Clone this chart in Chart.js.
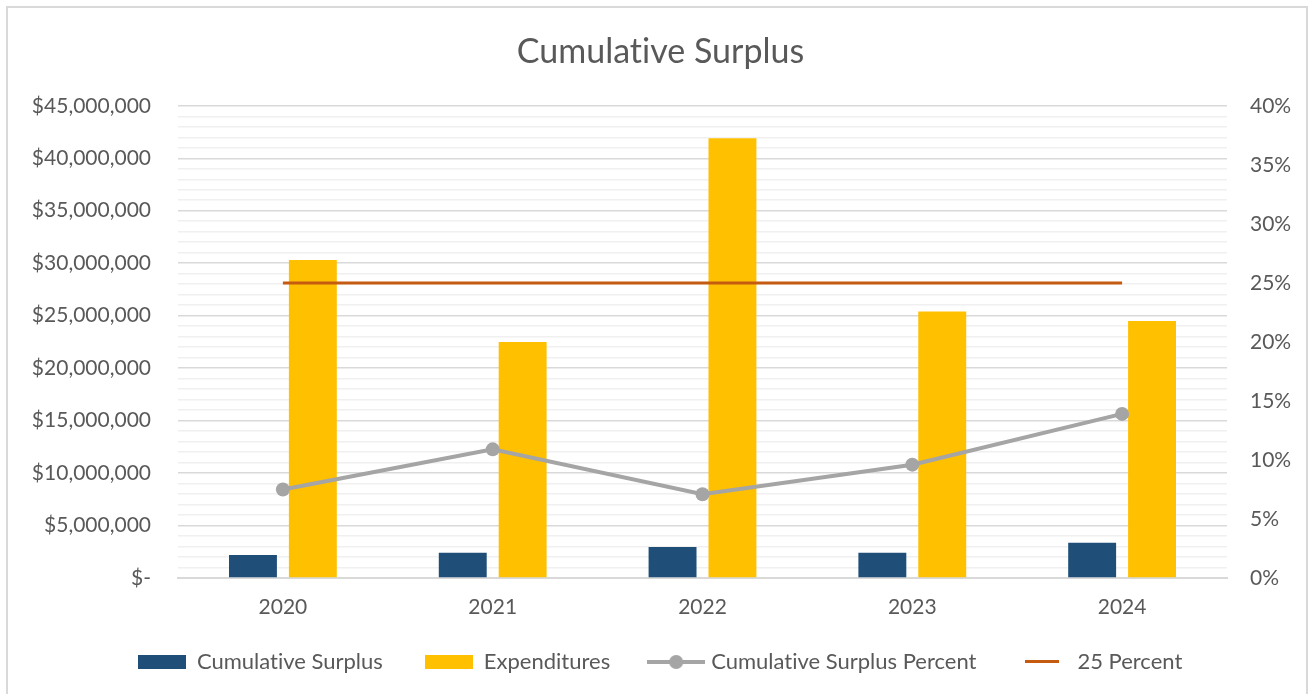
<!DOCTYPE html>
<html>
<head>
<meta charset="utf-8">
<script src="https://cdn.jsdelivr.net/npm/chart.js@4.4.1/dist/chart.umd.min.js"></script>
<style>
  html, body { margin: 0; padding: 0; background: #fff; }
  #wrap { width: 1309px; height: 694px; }
</style>
</head>
<body>
<div id="wrap"><canvas id="surplusChart" width="1309" height="694"></canvas></div>
<script>
// data
const years = ['2020', '2021', '2022', '2023', '2024'];
const cumulativeSurplus = [2200000, 2400000, 2950000, 2400000, 3350000];
const expenditures = [30300000, 22500000, 41900000, 25400000, 24500000];
const surplusPercent = [7.5, 10.9, 7.1, 9.6, 13.9];
const targetPercent = [25, 25, 25, 25, 25];

const FONT = 'Lato, "Open Sans", sans-serif';
const TEXT = '#595959';

// small legend icons (box for bars, line / line+dot for lines)
function makeIcon(w, h, draw) {
    const c = document.createElement('canvas');
    c.width = w; c.height = h;
    draw(c.getContext('2d'), w, h);
    return c;
}
const legendIcons = [
    makeIcon(48, 14, (g, w, h) => { g.fillStyle = '#1f4e79'; g.fillRect(0, 0, w, h); }),
    makeIcon(48, 14, (g, w, h) => { g.fillStyle = '#ffc000'; g.fillRect(0, 0, w, h); }),
    makeIcon(58, 16, (g, w, h) => {
        g.fillStyle = '#a5a5a5';
        g.fillRect(0, h / 2 - 2, w, 4);
        g.beginPath(); g.arc(w / 2, h / 2, 7, 0, Math.PI * 2); g.fill();
    }),
    makeIcon(34, 4, (g, w, h) => { g.fillStyle = '#c55a11'; g.fillRect(0, 0, w, 3); })
];

// frame + no ligatures ("ti" in Lato)
const framePlugin = {
    id: 'frame',
    beforeInit(chart) {
        chart.ctx.textRendering = 'optimizeSpeed';
    },
    beforeDraw(chart) {
        const ctx = chart.ctx;
        ctx.textRendering = 'optimizeSpeed';
        ctx.save();
        ctx.strokeStyle = '#d9d9d9';
        ctx.lineWidth = 2;
        ctx.strokeRect(7, 7, 1300, 700);
        ctx.restore();
    }
};

// legend padding is large for the horizontal gaps, so pull the legend up a bit
// and let its box (the draw clip) run to the bottom of the canvas
const legendShift = {
    id: 'legendShift',
    afterLayout(chart) {
        const lg = chart.legend;
        if (!lg) return;
        lg.top -= 19;
        lg.bottom = chart.height;
        lg.height = lg.bottom - lg.top;
    }
};

new Chart(document.getElementById('surplusChart'), {
    type: 'bar',
    data: {
        labels: years,
        datasets: [
            {
                label: 'Cumulative Surplus',
                data: cumulativeSurplus,
                backgroundColor: '#1f4e79',
                yAxisID: 'y',
                categoryPercentage: 0.571,
                barPercentage: 0.8,
                order: 3
            },
            {
                label: 'Expenditures',
                data: expenditures,
                backgroundColor: '#ffc000',
                yAxisID: 'y',
                categoryPercentage: 0.571,
                barPercentage: 0.8,
                order: 4
            },
            {
                type: 'line',
                label: 'Cumulative Surplus Percent',
                data: surplusPercent,
                borderColor: '#a5a5a5',
                backgroundColor: '#a5a5a5',
                borderWidth: 4,
                pointRadius: 7,
                pointBorderWidth: 0,
                pointBackgroundColor: '#a5a5a5',
                tension: 0,
                yAxisID: 'y1',
                order: 1
            },
            {
                type: 'line',
                label: '25 Percent',
                data: targetPercent,
                borderColor: '#c55a11',
                backgroundColor: '#c55a11',
                borderWidth: 3,
                pointRadius: 0,
                yAxisID: 'y1',
                order: 2
            }
        ]
    },
    options: {
        responsive: false,
        animation: false,
        layout: { padding: { left: 12, right: 0, top: 0, bottom: 26 } },
        plugins: {
            title: {
                display: true,
                text: 'Cumulative Surplus',
                color: TEXT,
                font: { family: FONT, size: 34, weight: 'normal' },
                padding: { top: 32, bottom: 33 }
            },
            legend: {
                position: 'bottom',
                maxHeight: 40,
                labels: {
                    usePointStyle: true,
                    pointStyleWidth: 48,
                    color: TEXT,
                    font: { family: FONT, size: 22 },
                    padding: 42,
                    sort: (a, b) => a.datasetIndex - b.datasetIndex,
                    generateLabels(chart) {
                        const items = Chart.defaults.plugins.legend.labels.generateLabels(chart);
                        items.forEach(it => { it.pointStyle = legendIcons[it.datasetIndex]; });
                        return items;
                    }
                }
            },
            tooltip: { enabled: false }
        },
        scales: {
            x: {
                grid: { display: false },
                border: { display: true, color: '#d9d9d9', width: 2 },
                ticks: { color: TEXT, font: { family: FONT, size: 21 }, padding: 9 },
                afterFit(scale) { scale.height = 50; }
            },
            y: {
                position: 'left',
                min: 0,
                max: 45000000,
                border: { display: false },
                grid: {
                    drawTicks: false,
                    lineWidth: 1.5,
                    color: c => (c.tick && c.tick.value % 5000000 === 0) ? '#d9d9d9' : '#f0f0f0'
                },
                ticks: {
                    stepSize: 1000000,
                    autoSkip: false,
                    color: TEXT,
                    font: { family: FONT, size: 21 },
                    padding: 27,
                    callback: v => {
                        if (v % 5000000 !== 0) return '';
                        return v === 0 ? '$-' : '$' + v.toLocaleString('en-US');
                    }
                },
                afterFit(scale) { scale.width = 166; }
            },
            y1: {
                position: 'right',
                min: 0,
                max: 40,
                border: { display: false },
                grid: { display: false, drawTicks: false },
                ticks: {
                    stepSize: 5,
                    color: TEXT,
                    font: { family: FONT, size: 21 },
                    padding: 23,
                    callback: v => v + '%'
                },
                afterFit(scale) { scale.width = 82; }
            }
        }
    },
    plugins: [framePlugin, legendShift]
});
</script>
</body>
</html>
